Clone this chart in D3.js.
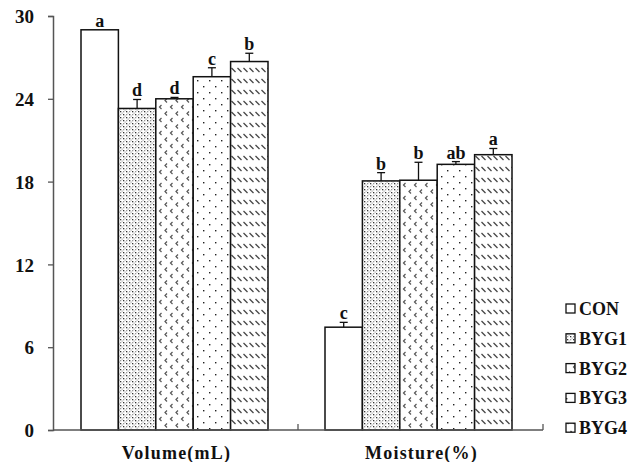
<!DOCTYPE html>
<html><head><meta charset="utf-8">
<script src="https://cdn.jsdelivr.net/npm/d3@7"></script>
<style>body{margin:0;background:#fff}svg{display:block}text{font-family:"Liberation Serif","Times New Roman",serif;font-weight:bold;fill:#111}</style>
</head><body><svg id="c" width="642" height="462"></svg>
<script>
const categories = ["Volume(mL)", "Moisture(%)"];
const groups = ["CON", "BYG1", "BYG2", "BYG3", "BYG4"];
const volumeMeans = [29.0, 23.3, 24.0, 25.6, 26.7];
const volumeErr = [0.0, 0.65, 0.1, 0.65, 0.6];
const volumeLetters = ["a", "d", "d", "c", "b"];
const moistureMeans = [7.45, 18.05, 18.1, 19.25, 19.95];
const moistureErr = [0.35, 0.6, 1.3, 0.2, 0.45];
const moistureLetters = ["c", "b", "b", "ab", "a"];
const yTicks = [0, 6, 12, 18, 24, 30];

const svg = d3.select("#c");
const defs = svg.append("defs");
// patterns
const p1 = defs.append("pattern").attr("id","p1").attr("patternUnits","userSpaceOnUse").attr("width",6).attr("height",6);
p1.append("rect").attr("width",6).attr("height",6).attr("fill","#fff");
[[0,0,"#333"],[3,0,"#999"],[0,3,"#999"],[3,3,"#333"],[1.5,1.5,"#bbb"],[4.5,4.5,"#bbb"]].forEach(d=>p1.append("rect").attr("x",d[0]).attr("y",d[1]).attr("width",1.3).attr("height",1.3).attr("fill",d[2]));
const p2 = defs.append("pattern").attr("id","p2").attr("patternUnits","userSpaceOnUse").attr("width",11).attr("height",13);
p2.append("rect").attr("width",11).attr("height",13).attr("fill","#fff");
p2.append("path").attr("d","M3.5,1 L1.5,3 L3.5,5 M9,7.5 L7,9.5 L9,11.5").attr("stroke","#555").attr("stroke-width",1.2).attr("fill","none");
const p3 = defs.append("pattern").attr("id","p3").attr("patternUnits","userSpaceOnUse").attr("width",12).attr("height",12);
p3.append("rect").attr("width",12).attr("height",12).attr("fill","#fff");
[[2,2],[8,8]].forEach(d=>p3.append("rect").attr("x",d[0]).attr("y",d[1]).attr("width",1.4).attr("height",1.4).attr("fill","#222"));
const p4 = defs.append("pattern").attr("id","p4").attr("patternUnits","userSpaceOnUse").attr("width",6).attr("height",11);
p4.append("rect").attr("width",6).attr("height",11).attr("fill","#fff");
p4.append("path").attr("d","M0.5,2 L4.5,6").attr("stroke","#444").attr("stroke-width",1.3);
const fills = ["#fff","url(#p1)","url(#p2)","url(#p3)","url(#p4)"];

const x0 = d3.scaleBand().domain(categories).range([53, 543]).padding(0);
const x1 = d3.scaleBand().domain(groups).range([0, 187]);
const y = d3.scaleLinear().domain([0, 30]).range([430, 16]);

const data = [
  {cat: categories[0], means: volumeMeans, err: volumeErr, letters: volumeLetters},
  {cat: categories[1], means: moistureMeans, err: moistureErr, letters: moistureLetters}
];
const offsets = [28, 27];

data.forEach((g, gi) => {
  const gx = x0(g.cat) + offsets[gi];
  const gg = svg.append("g").attr("transform", `translate(${gx},0)`);
  groups.forEach((s, i) => {
    const bx = x1(s), bw = x1.bandwidth();
    gg.append("rect").attr("x", bx).attr("y", y(g.means[i])).attr("width", bw)
      .attr("height", y(0) - y(g.means[i])).attr("fill", fills[i]).attr("stroke", "#111").attr("stroke-width", 1.5);
    const top = y(g.means[i] + g.err[i]);
    if (g.err[i] > 0.05) {
      gg.append("line").attr("x1", bx + bw/2).attr("x2", bx + bw/2).attr("y1", y(g.means[i])).attr("y2", top).attr("stroke", "#111").attr("stroke-width", 1.3);
      gg.append("line").attr("x1", bx + bw/2 - 4).attr("x2", bx + bw/2 + 4).attr("y1", top).attr("y2", top).attr("stroke", "#111").attr("stroke-width", 1.3);
    }
    gg.append("text").attr("x", bx + bw/2).attr("y", top - 3).attr("text-anchor", "middle")
      .style("font-size", "18px").text(g.letters[i]);
  });
});

// axes
const yAxis = d3.axisLeft(y).tickValues(yTicks).tickSize(5).tickPadding(14);
const ya = svg.append("g").attr("transform", "translate(53,0)").call(yAxis);
ya.select(".domain").attr("stroke", "#555").attr("stroke-width", 1.5);
ya.selectAll(".tick line").attr("stroke", "#555").attr("stroke-width", 1.3);
ya.selectAll(".tick text").style("font-size", "19px").style("font-family", "Liberation Serif, serif").style("font-weight", "bold").attr("fill", "#111").attr("dy", "0.35em");

const xa = svg.append("g").attr("transform", "translate(0,430)");
xa.append("line").attr("x1", 53).attr("x2", 543).attr("stroke", "#555").attr("stroke-width", 1.5);
categories.forEach(c => {
  const xe = x0(c) + x0.bandwidth();
  xa.append("line").attr("x1", xe).attr("x2", xe).attr("y1", 0).attr("y2", -6).attr("stroke", "#555").attr("stroke-width", 1.3);
  xa.append("text").attr("x", x0(c) + x0.bandwidth()/2 + 1).attr("y", 29).attr("text-anchor", "middle")
    .style("font-size", "18px").style("letter-spacing", "1.2px").text(c);
});

// legend
const leg = svg.append("g");
groups.forEach((s, i) => {
  const ly = 309 + i * 29.8;
  leg.append("rect").attr("x", 566).attr("y", ly - 5).attr("width", 9).attr("height", 9)
    .attr("fill", fills[i]).attr("stroke", "#111").attr("stroke-width", 1.3);
  leg.append("text").attr("x", 579).attr("y", ly + 6).style("font-size", "18px").text(s);
});
</script></body></html>
